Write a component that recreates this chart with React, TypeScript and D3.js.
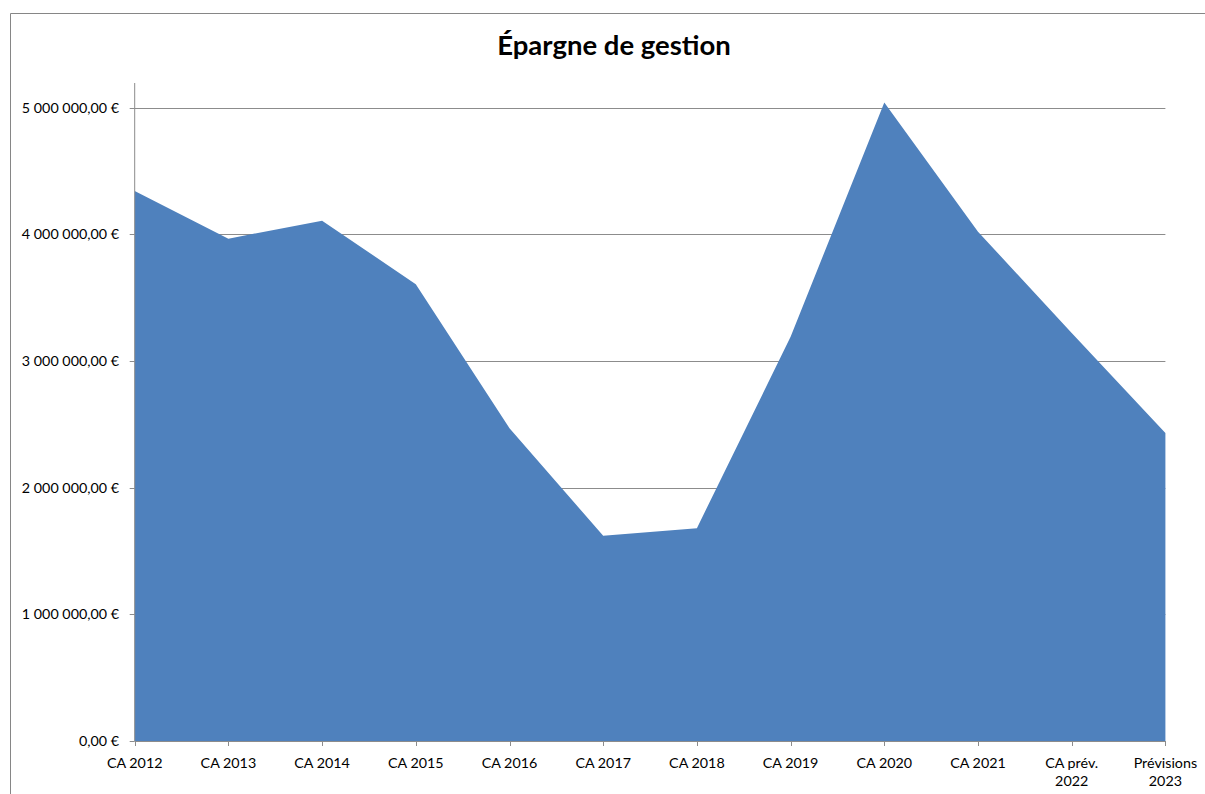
import React from "react";
import * as d3 from "d3";

const categories: string[] = [
  "CA 2012", "CA 2013", "CA 2014", "CA 2015", "CA 2016", "CA 2017",
  "CA 2018", "CA 2019", "CA 2020", "CA 2021", "CA prév. 2022", "Prévisions 2023",
];
const categoryLines: string[][] = [
  ["CA 2012"], ["CA 2013"], ["CA 2014"], ["CA 2015"], ["CA 2016"], ["CA 2017"],
  ["CA 2018"], ["CA 2019"], ["CA 2020"], ["CA 2021"], ["CA prév.", "2022"], ["Prévisions", "2023"],
];
const values: number[] = [
  4340000, 3965000, 4107000, 3605000, 2468000, 1620000,
  1680000, 3190000, 5040000, 4020000, 3220000, 2430000,
];
const yTicks: number[] = [0, 1000000, 2000000, 3000000, 4000000, 5000000];
const title = "Épargne de gestion";

const W = 1205;
const H = 794;
const left = 134.7;
const right = 1165.4;
const top = 83;
const bottom = 741;

function fmt(v: number): string {
  const s = d3.format(",.2f")(v);
  return s.replace(/,/g, " ").replace(".", ",") + " €";
}

export default function App() {
  const x = d3.scalePoint<string>().domain(categories).range([left, right]);
  const y = d3.scaleLinear().domain([0, 5000000]).range([bottom, 107.5]);
  const area = d3
    .area<number>()
    .x((_, i) => x(categories[i]) as number)
    .y0(y(0))
    .y1((d) => y(d));
  const font = "Lato, 'Open Sans', sans-serif";
  return (
    <svg
      width={W}
      height={H}
      style={{ position: "absolute", left: 0, top: 0, background: "#fff" }}
      fontFamily={font}
    >
      <rect x={0} y={0} width={W} height={H} fill="#fff" />
      <line x1={10.5} y1={13.5} x2={W} y2={13.5} stroke="#868686" />
      <line x1={10.5} y1={13.5} x2={10.5} y2={H} stroke="#868686" />
      <text x={614} y={55} textAnchor="middle" fontSize={27.5} fontWeight="bold" fill="#000">
        {title}
      </text>
      {yTicks.map((t) => (
        <g key={t}>
          {t > 0 && (
            <line x1={left} x2={right} y1={Math.round(y(t)) + 0.5} y2={Math.round(y(t)) + 0.5} stroke="#8c8c8c" />
          )}
          <line x1={left - 5} x2={left} y1={Math.round(y(t)) + 0.5} y2={Math.round(y(t)) + 0.5} stroke="#8c8c8c" />
          <text x={119} y={y(t) + 5} textAnchor="end" fontSize={14.3} fill="#000">
            {fmt(t)}
          </text>
        </g>
      ))}
      <path d={area(values) ?? ""} fill="#4F81BD" />
      <line x1={left} x2={left} y1={top} y2={bottom} stroke="#8c8c8c" />
      <line x1={left} x2={right} y1={bottom + 0.5} y2={bottom + 0.5} stroke="#8c8c8c" />
      {categories.map((c, i) => {
        const cx = x(c) as number;
        return (
          <g key={c}>
            <line x1={Math.round(cx) + 0.5} x2={Math.round(cx) + 0.5} y1={bottom} y2={bottom + 5} stroke="#8c8c8c" />
            {categoryLines[i].map((ln, j) => (
              <text key={j} x={cx} y={768 + j * 18} textAnchor="middle" fontSize={14.3} fill="#000">
                {ln}
              </text>
            ))}
          </g>
        );
      })}
    </svg>
  );
}
